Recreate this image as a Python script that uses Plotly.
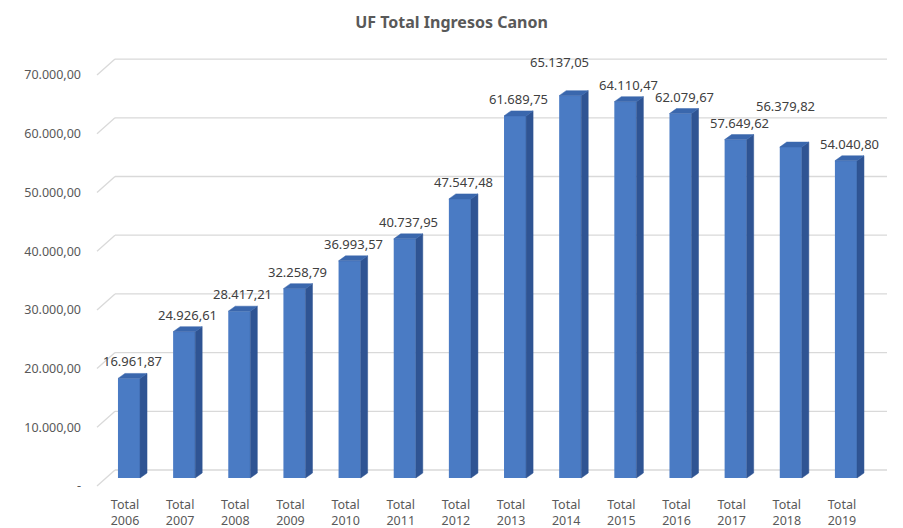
import plotly.graph_objects as go

# ---------------- data ----------------
CATEGORIES = ["Total<br>2006", "Total<br>2007", "Total<br>2008", "Total<br>2009", "Total<br>2010",
              "Total<br>2011", "Total<br>2012", "Total<br>2013", "Total<br>2014", "Total<br>2015",
              "Total<br>2016", "Total<br>2017", "Total<br>2018", "Total<br>2019"]
VALUES = [16961.87, 24926.61, 28417.21, 32258.79, 36993.57, 40737.95, 47547.48,
          61689.75, 65137.05, 64110.47, 62079.67, 57649.62, 56379.82, 54040.80]
TICK_VALUES = [0, 10000, 20000, 30000, 40000, 50000, 60000, 70000]
TICK_LABELS = ["-", "10.000,00", "20.000,00", "30.000,00", "40.000,00",
               "50.000,00", "60.000,00", "70.000,00"]
TITLE = "UF Total Ingresos Canon"

# ---------------- styling / geometry ----------------
W, H = 903, 528
ML, MR, MT, MB = 96, 13, 50, 33
K = 0.00587                 # px per value unit
PXU = 55.15                 # px per category step
BASE_PX = 478               # pixel row of value 0 (bar floor)
FRONT = 8 / K               # depth offset (front plane / back wall)
BAR_W = 0.40
DX = 7 / PXU                # 3D side depth (x)
DY = 5 / K                  # 3D side depth (y)

FRONT_C = "#4a7bc4"
SIDE_C = "#2f5493"
TOP_C = "#3a67ad"
GRID_C = "#d9d9d9"
FONT = "Noto Sans"

x0 = -(129 - ML) / PXU
x1 = (W - MR - 129) / PXU
y1 = (BASE_PX - MT) / K
y0 = -((H - MB) - BASE_PX) / K

idx = list(range(len(VALUES)))

fig = go.Figure()

# back-wall grid lines and side-wall diagonals
grid_left = (115 - 129) / PXU
grid_right = (887 - 129) / PXU
front_left = (97 - 129) / PXU
for t in TICK_VALUES:
    fig.add_shape(type="line", xref="x", yref="y", layer="below",
                  x0=grid_left, x1=grid_right, y0=t + FRONT, y1=t + FRONT,
                  line=dict(color=GRID_C, width=1.3))
    fig.add_shape(type="line", xref="x", yref="y", layer="below",
                  x0=front_left, x1=grid_left, y0=t - FRONT, y1=t + FRONT,
                  line=dict(color=GRID_C, width=1.3))

# front faces
fig.add_trace(go.Bar(x=idx, y=VALUES, width=BAR_W, marker=dict(color=FRONT_C, line=dict(width=0)),
                     hoverinfo="skip", showlegend=False))

# side faces and top faces
sx, sy, tx, ty = [], [], [], []
for i, v in zip(idx, VALUES):
    r = i + BAR_W / 2
    l = i - BAR_W / 2
    sx += [r, r + DX, r + DX, r, r, None]
    sy += [0, DY, v + DY, v, 0, None]
    tx += [l, l + DX, r + DX, r, l, None]
    ty += [v, v + DY, v + DY, v, v, None]
fig.add_trace(go.Scatter(x=sx, y=sy, mode="lines", fill="toself", fillcolor=SIDE_C,
                         line=dict(color=SIDE_C, width=0.5), hoverinfo="skip", showlegend=False))
fig.add_trace(go.Scatter(x=tx, y=ty, mode="lines", fill="toself", fillcolor=TOP_C,
                         line=dict(color=TOP_C, width=0.5), hoverinfo="skip", showlegend=False))


def fmt(v):
    return f"{v:,.2f}".replace(",", "X").replace(".", ",").replace("X", ".")


# value labels (two labels were moved by hand in the original)
NUDGE = {8: (-14, 17), 12: (-9, 24)}
for i, v in zip(idx, VALUES):
    dx_px, dy_px = NUDGE.get(i, (0, 0))
    fig.add_annotation(x=i + DX / 2, y=v + DY, xref="x", yref="y", text=fmt(v),
                       showarrow=False, yanchor="bottom", xanchor="center",
                       xshift=dx_px, yshift=1 + dy_px,
                       font=dict(family=FONT, size=13, color="#404040"))

fig.update_layout(
    width=W, height=H,
    margin=dict(l=ML, r=MR, t=MT, b=MB, autoexpand=False),
    paper_bgcolor="white", plot_bgcolor="white",
    title=dict(text=f"<b>{TITLE}</b>", x=0.5, xref="container", xanchor="center",
               y=1 - 22 / H, yref="container", yanchor="middle",
               font=dict(family=FONT, size=16, color="#595959")),
    xaxis=dict(range=[x0, x1], tickvals=idx, ticktext=CATEGORIES, showgrid=False,
               zeroline=False, showline=False, ticks="", ticklabelshift=-4,
               ticklabelstandoff=0, automargin=False,
               tickfont=dict(family=FONT, size=12.5, color="#595959")),
    yaxis=dict(range=[y0, y1], tickvals=[t - FRONT for t in TICK_VALUES], ticktext=TICK_LABELS,
               showgrid=False, zeroline=False, showline=False, ticks="",
               ticklabelstandoff=14, automargin=False,
               tickfont=dict(family=FONT, size=12.5, color="#595959")),
    bargap=0.6,
)

fig.write_html("out.html", config={"displayModeBar": False},
               post_script="document.body.style.margin='0';document.body.style.overflow='hidden';")
